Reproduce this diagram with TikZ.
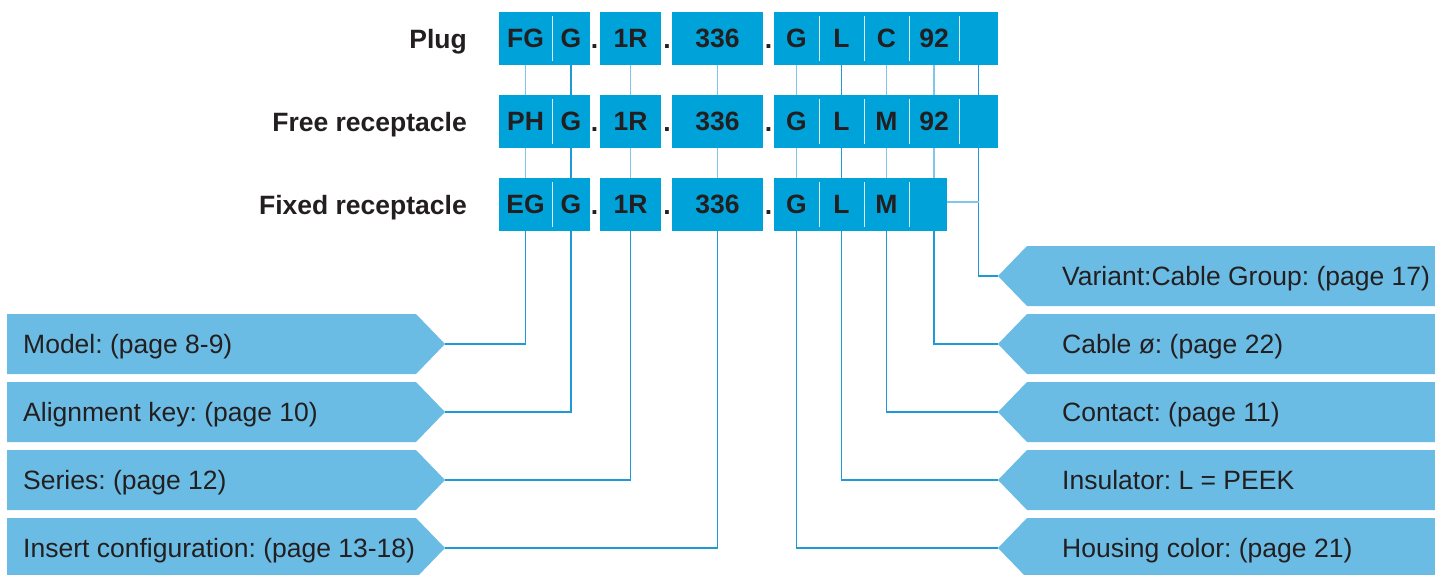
\documentclass[tikz,border=0pt]{standalone}
\usepackage{fontspec}
\setmainfont{Liberation Sans}
\frenchspacing
\definecolor{boxblue}{HTML}{00A3D9}
\definecolor{lblblue}{HTML}{6BBCE4}
\definecolor{txt}{HTML}{231F20}
\definecolor{linedark}{HTML}{1E9BD7}
\definecolor{linelight}{HTML}{7FC6E9}
\begin{document}
\begin{tikzpicture}[x=1pt,y=-1pt,
  cell/.style={fill=boxblue, inner sep=0pt, outer sep=0pt, minimum height=53pt, text=txt,
    font=\fontsize{26.5}{30}\selectfont\bfseries},
  dotlbl/.style={inner sep=0pt, text=txt, anchor=base, font=\fontsize{26.5}{30}\selectfont\bfseries},
  rowlbl/.style={inner sep=0pt, text=txt, anchor=base east, font=\fontsize{26.5}{30}\selectfont\bfseries},
  lbltext/.style={inner sep=0pt, text=txt, anchor=base west, font=\fontsize{26.5}{30}\selectfont\frenchspacing},
  lblshape/.style={fill=lblblue, draw=none},
  div/.style={draw=white!85!boxblue, line width=1pt},
  conn/.style={draw=linelight, line width=1.3pt},
  conndark/.style={draw=linedark, line width=1.3pt}]
\useasboundingbox (0,0) rectangle (1435,574);

% ---------- row labels ----------
\node[rowlbl] (lplug) at (467,48) {Plug};
\node[rowlbl] (lfree) at (467,131) {Free receptacle};
\node[rowlbl] (lfixed) at (467,214) {Fixed receptacle};

% ---------- cells: rows a (Plug) and b (Free receptacle) ----------
\foreach \r/\y/\ta/\tg/\tk/\te in {a/38.5/FG/C/92/, b/121.5/PH/M/92/}{
  \node[cell, minimum width=53pt] (\r1) at (525.5,\y) {\ta};
  \node[cell, minimum width=38pt] (\r2) at (571,\y) {G};
  \node[cell, minimum width=61pt] (\r3) at (630.5,\y) {1R};
  \node[cell, minimum width=91pt] (\r4) at (717.5,\y) {336};
  \node[cell, minimum width=45pt] (\r5) at (796.5,\y) {G};
  \node[cell, minimum width=45pt] (\r6) at (841.5,\y) {L};
  \node[cell, minimum width=45pt] (\r7) at (886.5,\y) {\tg};
  \node[cell, minimum width=50pt] (\r8) at (934,\y) {\tk};
  \node[cell, minimum width=39pt] (\r9) at (978.5,\y) {\te};
}
% row c (Fixed receptacle)
\node[cell, minimum width=53pt] (c1) at (525.5,204.5) {EG};
\node[cell, minimum width=38pt] (c2) at (571,204.5) {G};
\node[cell, minimum width=61pt] (c3) at (630.5,204.5) {1R};
\node[cell, minimum width=91pt] (c4) at (717.5,204.5) {336};
\node[cell, minimum width=45pt] (c5) at (796.5,204.5) {G};
\node[cell, minimum width=45pt] (c6) at (841.5,204.5) {L};
\node[cell, minimum width=45pt] (c7) at (886.5,204.5) {M};
\node[cell, minimum width=38pt] (c8) at (928,204.5) {};

% dividers
\foreach \r in {a,b}{
  \foreach \c in {1,5,6,7,8}{
    \draw[div] ([yshift=-4pt]\r\c.north east) -- ([yshift=4pt]\r\c.south east);
  }
}
\foreach \c in {1,5,6,7}{
  \draw[div] ([yshift=-4pt]c\c.north east) -- ([yshift=4pt]c\c.south east);
}

% dots
\foreach \r/\b in {a/48, b/131, c/214}{
  \node[dotlbl] (\r dA) at (594.5,\b) {.};
  \node[dotlbl] (\r dB) at (667,\b) {.};
  \node[dotlbl] (\r dC) at (768.5,\b) {.};
}

% ---------- left labels ----------
\foreach \n/\t/\txt in {lm/314/{Model: (page 8-9)}, la/382/{Alignment key: (page 10)},
                       ls/450/{Series: (page 12)}, li/518/{Insert configuration: (page 13-18)}}{
  \fill[lblshape] (7,\t) -- (416,\t) -- (445,\t+30) -- (416,\t+60) -- (7,\t+60) -- cycle;
  \coordinate (\n tip) at (445,\t+30);
  \node[lbltext] (\n) at (23,\t+39.5) {\txt};
}

% ---------- right labels ----------
\foreach \n/\t/\txt in {rv/246/{Variant:Cable Group: (page 17)}, rc/314/{Cable ø: (page 22)},
                       rk/382/{Contact: (page 11)}, rn/450/{Insulator: L = PEEK},
                       rh/518/{Housing color: (page 21)}}{
  \fill[lblshape] (1436,\t) -- (1027,\t) -- (998,\t+30) -- (1027,\t+60) -- (1436,\t+60) -- cycle;
  \coordinate (\n tip) at (998,\t+30);
  \node[lbltext] (\n) at (1062,\t+39.5) {\txt};
}

% ---------- connectors between rows ----------
\foreach \c/\s in {1/conn,2/conndark,3/conn,4/conn,5/conn,6/conndark,7/conn,8/conn,9/conndark}{
  \draw[\s] (a\c.south) -- (b\c.north);
}
\foreach \c/\s in {1/conn,2/conndark,3/conn,4/conn,5/conn,6/conndark,7/conn}{
  \draw[\s] (b\c.south) -- (c\c.north);
}
\draw[conn] (b8.south) -- (c8.north -| b8.south);

% ---------- connectors to labels ----------
\draw[conndark] (c1.south) |- (lmtip);
\draw[conndark] (c2.south) |- (latip);
\draw[conndark] (c3.south) |- (lstip);
\draw[conndark] (c4.south) |- (litip);
\draw[conndark] (c5.south) |- (rhtip);
\draw[conndark] (c6.south) |- (rntip);
\draw[conndark] (c7.south) |- (rktip);
\draw[conndark] (c8.south -| b8.south) |- (rctip);
\draw[conndark] (b9.south) |- (rvtip);
\draw[conn] ([yshift=2.5pt]c8.east) -- ([yshift=2.5pt]c8.east -| b9.south);
\end{tikzpicture}
\end{document}
